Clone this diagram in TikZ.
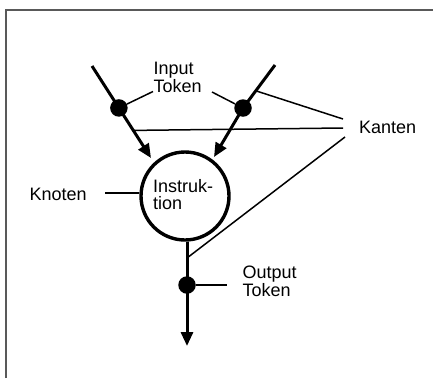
\documentclass[tikz,border=0pt]{standalone}
\usepackage{fontspec}
\setmainfont{Liberation Sans}
\usetikzlibrary{arrows.meta,calc}
\begin{document}
\begin{tikzpicture}[x=1pt,y=-1pt,
  heavy/.style={line width=3pt},
  thinline/.style={line width=1.5pt},
  arr/.style={heavy,-{Triangle[length=14pt,width=12pt]}},
  tok/.style={circle,fill=black,inner sep=0pt,minimum size=17.5pt},
  lbl/.style={inner sep=0pt,font=\fontsize{18}{17.5}\selectfont,align=left},
  framestyle/.style={line width=1.6pt,draw=black!65}]
\useasboundingbox (0,0) rectangle (433,378);
% frame
\draw[framestyle] (6,378) -- (6,10) -- (433,10);
% instruction node
\node[circle,draw,line width=3.4pt,minimum size=88pt,inner sep=0pt] (instr) at (185,196) {};
\node[lbl,anchor=north west] (instrtxt) at (153,179) {Instruk-\\tion};
% input edges
\coordinate (inL) at (92,66);
\coordinate (tipL) at (151,158);
\coordinate (inR) at (275,65);
\coordinate (tipR) at (214,157);
\node[tok] (dotL) at ($(inL)!0.456!(tipL)$) {};
\node[tok] (dotR) at (243,108) {};
\draw[arr] (inL) -- (tipL);
\draw[arr] (inR) -- (dotR.center) -- (tipR);
% output edge
\node[tok] (dotO) at (187,285) {};
\coordinate (tipO) at (187,346);
\draw[heavy] (instr.south -| dotO) -- (dotO.center);
\draw[arr] (dotO.center) -- (tipO);
% labels
\node[lbl,anchor=north west] (intok) at (153.5,62) {Input\\Token};
\node[lbl,anchor=base west] (knoten) at (29.5,200) {Knoten};
\node[lbl,anchor=base west] (kanten) at (359,133) {Kanten};
\node[lbl,anchor=north west] (outtok) at (242.4,266) {Output\\Token};
% label leaders
\coordinate (itL) at (153,91.5);
\coordinate (itR) at (212,92);
\draw[thinline] (dotL) -- (itL);
\draw[thinline] (itR) -- (dotR);
\coordinate (knl) at (105,193);
\draw[thinline] (knl) -- (knl -| instr.west);
\coordinate (otR) at (227,285);
\draw[thinline] (dotO) -- (otR);
% Kanten leaders
\coordinate (kR) at ($(inR)!0.6!(dotR)$);
\coordinate (kA) at (343,119);
\coordinate (kL) at ($(inL)!0.7!(tipL)$);
\coordinate (kB) at (343,128);
\coordinate (kC) at (187,258);
\coordinate (kD) at (345,137);
\draw[thinline] (kR) -- (kA);
\draw[thinline] (kL) -- (kB);
\draw[thinline] (kC) -- (kD);
\end{tikzpicture}
\end{document}
